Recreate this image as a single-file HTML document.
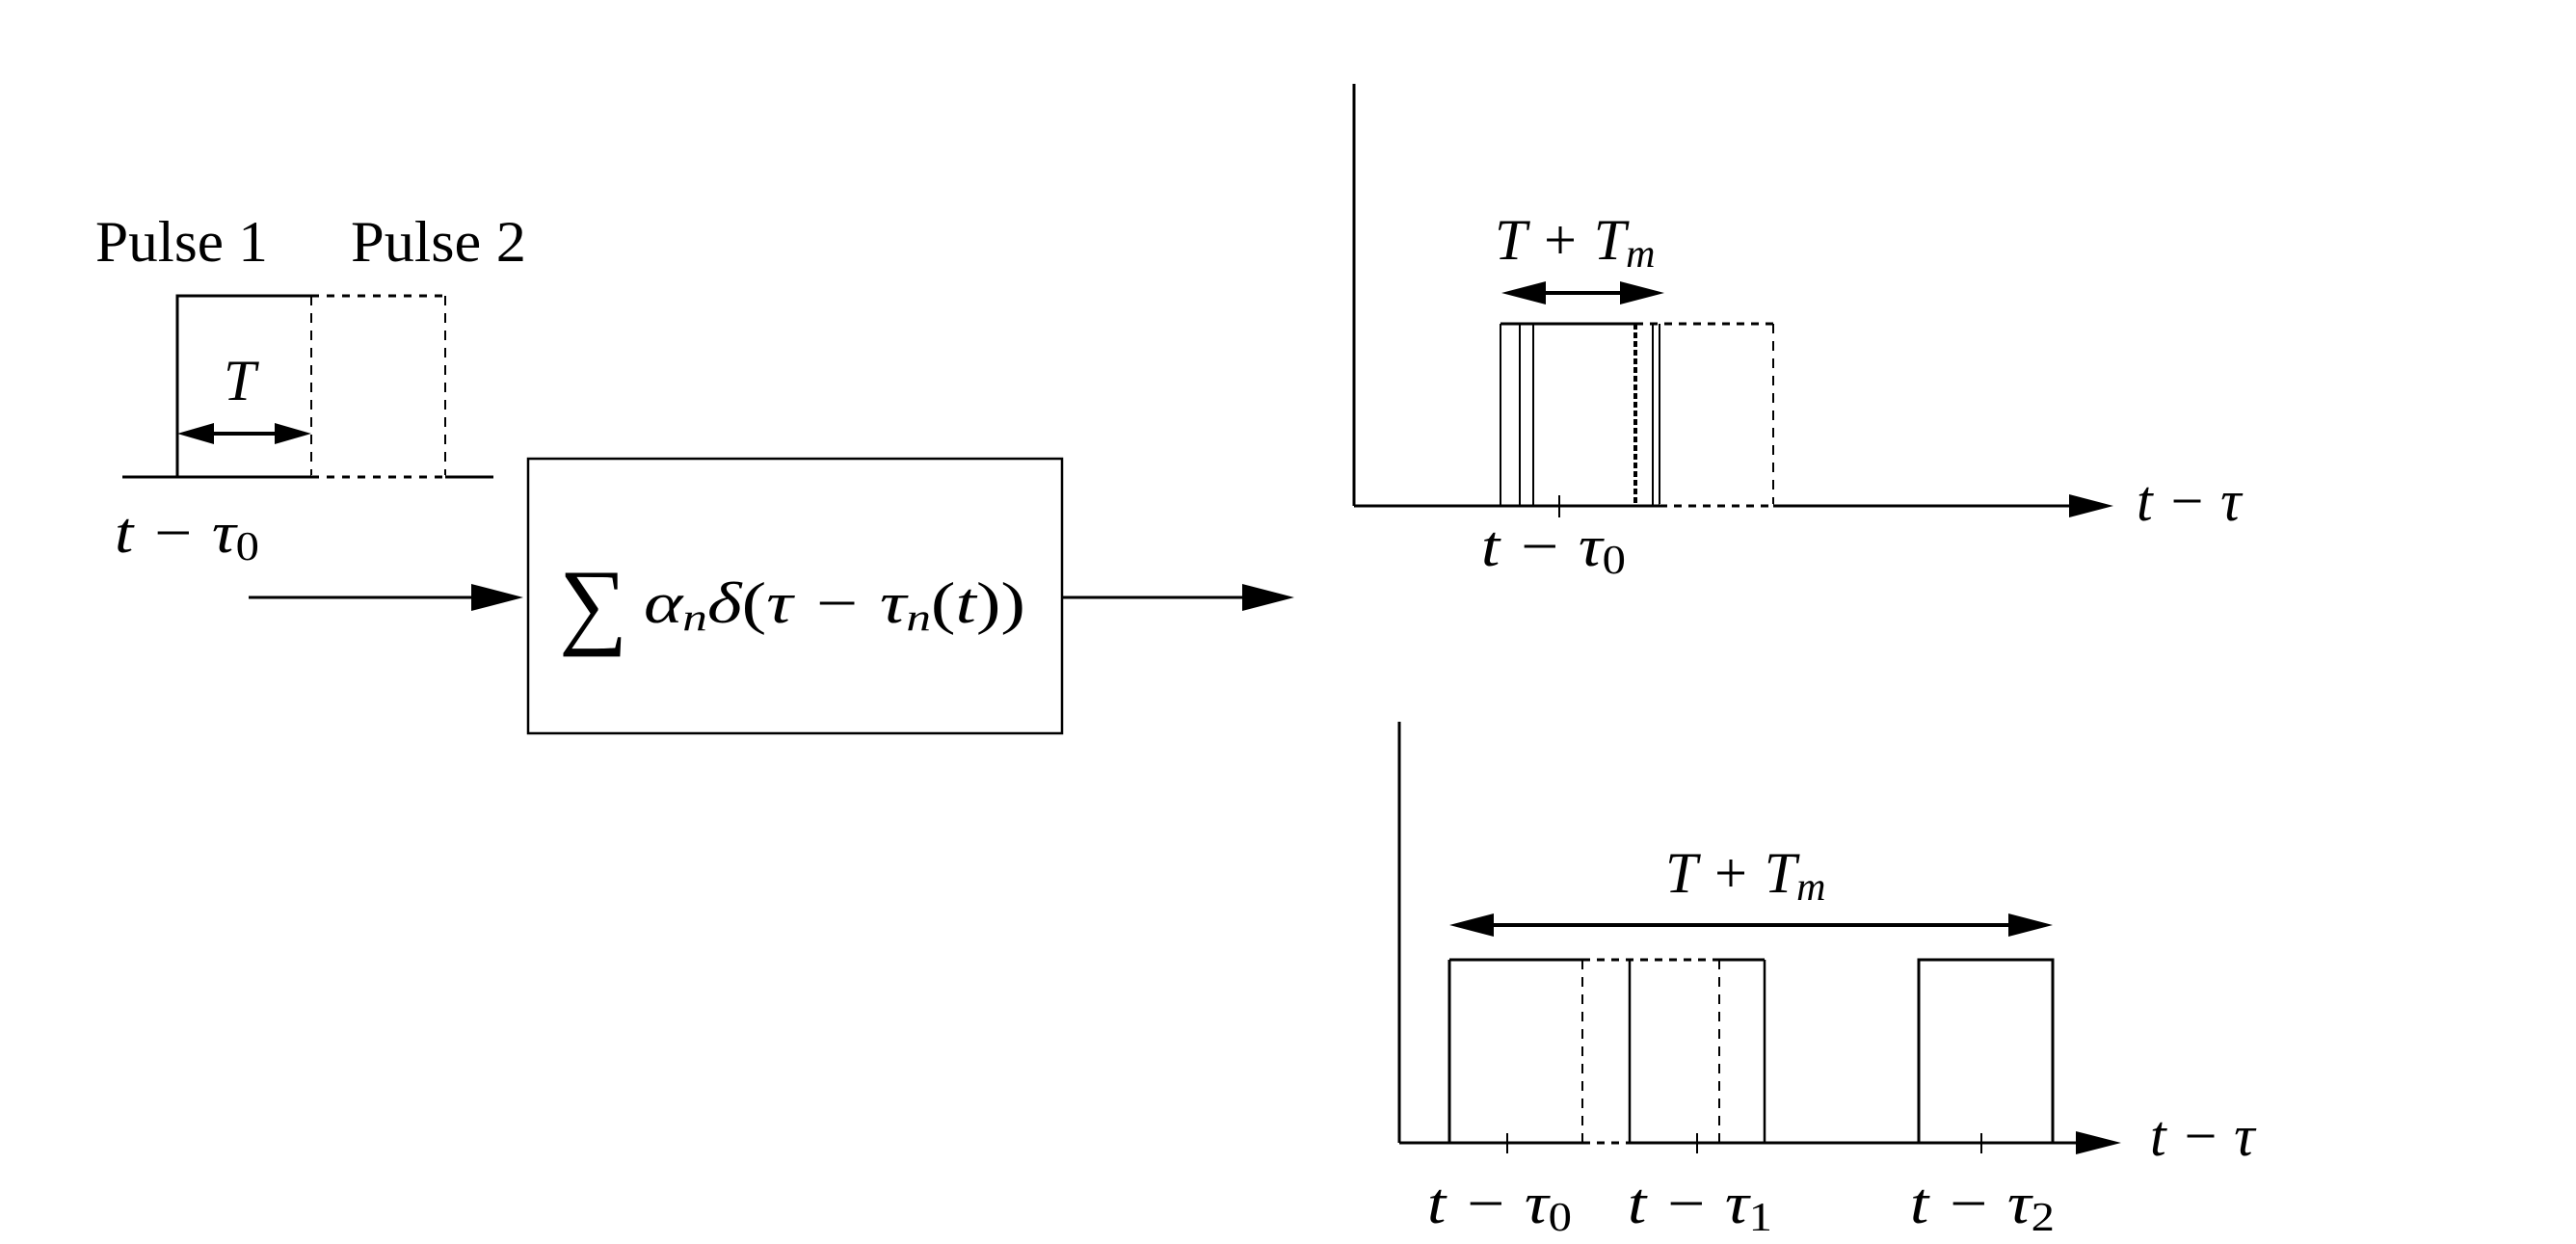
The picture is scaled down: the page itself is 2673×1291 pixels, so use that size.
<!DOCTYPE html>
<html><head><meta charset="utf-8"><style>html,body{margin:0;padding:0;background:#fff}svg{display:block}</style></head>
<body>
<svg width="2673" height="1291" viewBox="0 0 2673 1291" xmlns="http://www.w3.org/2000/svg" font-family="Liberation Serif, serif">
<defs>
<marker id="ah" markerWidth="10" markerHeight="10" refX="10" refY="5" orient="auto" markerUnits="userSpaceOnUse" viewBox="0 0 10 10" >
</marker>
</defs>
<g stroke="#000" fill="none" stroke-width="3">
<!-- left input pulse -->
<line x1="127" y1="495" x2="512" y2="495"/>
<polyline points="184,495 184,307 323,307"/>
<line x1="323" y1="307" x2="462" y2="307" stroke-dasharray="8,8"/>
<line x1="323" y1="307" x2="323" y2="495" stroke-dasharray="10,8" stroke-width="2"/>
<line x1="462" y1="307" x2="462" y2="495" stroke-dasharray="10,8" stroke-width="2"/>
<line x1="323" y1="495" x2="462" y2="495" stroke="#fff" stroke-width="4"/>
<line x1="323" y1="495" x2="462" y2="495" stroke-dasharray="8,8"/>
<line x1="215" y1="450" x2="292" y2="450" stroke-width="4"/>
<!-- box -->
<rect x="548" y="476" width="554" height="285" stroke-width="2.5"/>
<line x1="258" y1="620" x2="500" y2="620"/>
<line x1="1102" y1="620" x2="1300" y2="620"/>
<!-- top plot -->
<line x1="1405" y1="87" x2="1405" y2="525"/>
<line x1="1405" y1="525" x2="2150" y2="525"/>
<line x1="1557" y1="336" x2="1697" y2="336"/>
<line x1="1697" y1="336" x2="1840" y2="336" stroke-dasharray="8,7"/>
<line x1="1557" y1="336" x2="1557" y2="525" stroke-width="2"/>
<line x1="1577" y1="336" x2="1577" y2="525" stroke-width="2"/>
<line x1="1591" y1="336" x2="1591" y2="525" stroke-width="2"/>
<line x1="1697" y1="336" x2="1697" y2="525" stroke-width="4" stroke-dasharray="6,3"/>
<line x1="1715" y1="336" x2="1715" y2="525" stroke-width="2"/>
<line x1="1722" y1="336" x2="1722" y2="525" stroke-width="2"/>
<line x1="1840" y1="336" x2="1840" y2="525" stroke-width="2" stroke-dasharray="10,8"/>
<line x1="1722" y1="525" x2="1840" y2="525" stroke="#fff" stroke-width="4"/>
<line x1="1722" y1="525" x2="1840" y2="525" stroke-dasharray="8,7"/>
<line x1="1618" y1="514" x2="1618" y2="537" stroke-width="2"/>
<line x1="1590" y1="304" x2="1695" y2="304" stroke-width="4"/>
<!-- bottom plot -->
<line x1="1452" y1="749" x2="1452" y2="1186"/>
<line x1="1452" y1="1186" x2="2158" y2="1186"/>
<line x1="1642" y1="1186" x2="1691" y2="1186" stroke="#fff" stroke-width="4"/>
<line x1="1642" y1="1186" x2="1777" y2="1186" stroke-dasharray="8,7"/>
<line x1="1504" y1="1186" x2="1504" y2="996"/>
<line x1="1504" y1="996" x2="1642" y2="996"/>
<line x1="1642" y1="996" x2="1777" y2="996" stroke-dasharray="8,7"/>
<line x1="1777" y1="996" x2="1831" y2="996"/>
<line x1="1642" y1="996" x2="1642" y2="1186" stroke-width="2" stroke-dasharray="10,8"/>
<line x1="1784" y1="996" x2="1784" y2="1186" stroke-width="2" stroke-dasharray="10,8"/>
<line x1="1691" y1="996" x2="1691" y2="1186" stroke-width="2.5"/>
<line x1="1831" y1="996" x2="1831" y2="1186" stroke-width="2.5"/>
<polyline points="1991,1186 1991,996 2130,996 2130,1186"/>
<line x1="1564" y1="1176" x2="1564" y2="1197" stroke-width="2"/>
<line x1="1761" y1="1176" x2="1761" y2="1197" stroke-width="2"/>
<line x1="2056" y1="1176" x2="2056" y2="1197" stroke-width="2"/>
<line x1="1540" y1="960" x2="2095" y2="960" stroke-width="4"/>
</g>
<g fill="#000">
<!-- arrowheads -->
<polygon points="184,450 222,439 222,461"/>
<polygon points="323,450 285,439 285,461"/>
<polygon points="543,620 489,606 489,634"/>
<polygon points="1343,620 1289,606 1289,634"/>
<polygon points="2193,525 2147,513 2147,537"/>
<polygon points="1558,304 1604,292 1604,316"/>
<polygon points="1727,304 1681,292 1681,316"/>
<polygon points="2201,1186 2154,1174 2154,1198"/>
<polygon points="1504,960 1550,948 1550,972"/>
<polygon points="2130,960 2084,948 2084,972"/>
</g>
<g font-size="60" fill="#000">
<text x="99" y="271" textLength="179" lengthAdjust="spacingAndGlyphs">Pulse 1</text>
<text x="364" y="271" textLength="182" lengthAdjust="spacingAndGlyphs">Pulse 2</text>
<g font-style="italic">
<text x="232" y="415">T</text>
<text x="119" y="573" textLength="150" lengthAdjust="spacingAndGlyphs">t − τ<tspan font-style="normal" font-size="42" dy="8">0</tspan></text>
<text x="1551" y="269">T + T<tspan font-size="42" dy="8">m</tspan></text>
<text x="1537" y="587" textLength="150" lengthAdjust="spacingAndGlyphs">t − τ<tspan font-style="normal" font-size="42" dy="8">0</tspan></text>
<text x="2217" y="540">t − τ</text>
<text x="1728" y="926">T + T<tspan font-size="42" dy="8">m</tspan></text>
<text x="1481" y="1269" textLength="150" lengthAdjust="spacingAndGlyphs">t − τ<tspan font-style="normal" font-size="42" dy="8">0</tspan></text>
<text x="1689" y="1269" textLength="150" lengthAdjust="spacingAndGlyphs">t − τ<tspan font-style="normal" font-size="42" dy="8">1</tspan></text>
<text x="1982" y="1269" textLength="150" lengthAdjust="spacingAndGlyphs">t − τ<tspan font-style="normal" font-size="42" dy="8">2</tspan></text>
<text x="2231" y="1199">t − τ</text>
</g>
<text x="580" y="660" font-size="100">∑</text>
<text x="668" y="646" font-style="italic" textLength="396" lengthAdjust="spacingAndGlyphs">α<tspan font-size="40" dy="8">n</tspan><tspan dy="-8">δ</tspan><tspan font-style="normal">(</tspan>τ − τ<tspan font-size="40" dy="8">n</tspan><tspan dy="-8" font-style="normal">(</tspan>t<tspan font-style="normal">))</tspan></text>
</g>
</svg>
</body></html>
